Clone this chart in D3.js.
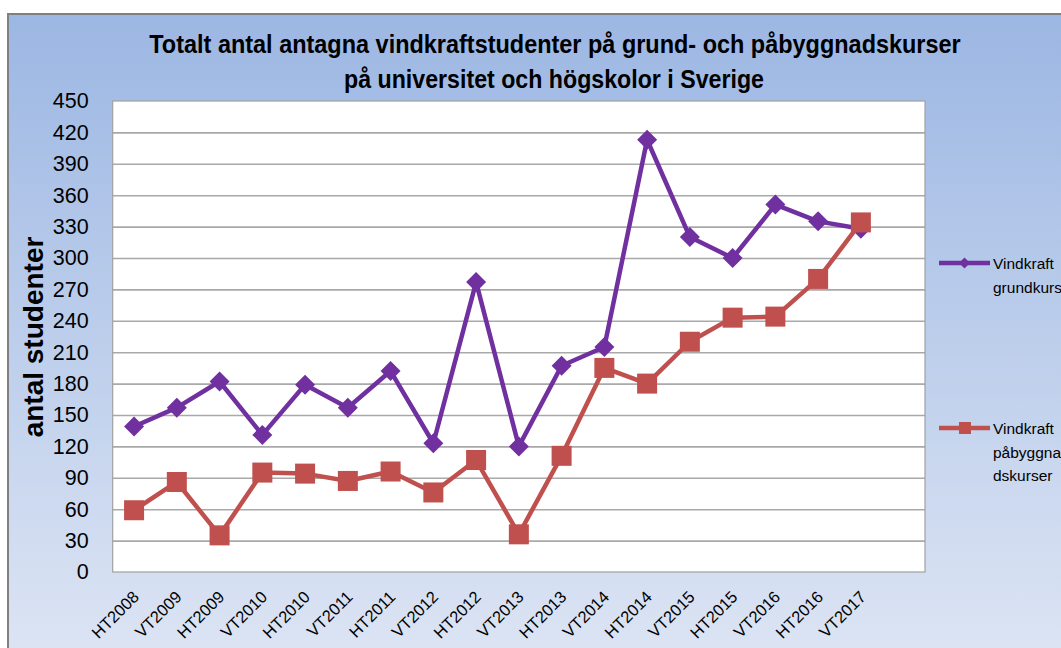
<!DOCTYPE html>
<html>
<head>
<meta charset="utf-8">
<script src="https://cdn.jsdelivr.net/npm/d3@7/dist/d3.min.js"></script>
<style>
  html, body { margin: 0; padding: 0; background: #fff; }
  svg { display: block; }
</style>
</head>
<body>
<svg id="chart" width="1061" height="648"></svg>
<script>
// ---- data ----
const categories = ["HT2008","VT2009","HT2009","VT2010","HT2010","VT2011","HT2011","VT2012","HT2012",
                    "VT2013","HT2013","VT2014","HT2014","VT2015","HT2015","VT2016","HT2016","VT2017"];
const grundkurser = [139,157,182,131,179,157,192,123,277,120,197,215,413,320,300,351,335,328];
const pabyggnadskurser = [59,86,35,95,94,87,96,76,107,36,111,195,180,220,243,244,280,334];
const yTickValues = [0,30,60,90,120,150,180,210,240,270,300,330,360,390,420,450];
const titleLines = ["Totalt antal antagna vindkraftstudenter på grund- och påbyggnadskurser",
                    "på universitet och högskolor i Sverige"];
const yAxisTitle = "antal studenter";
const seriesNames = ["Vindkraft grundkurser", "Vindkraft påbyggnadskurser"];
const legendLines = [["Vindkraft", "grundkurser"], ["Vindkraft", "påbyggna", "dskurser"]];

// ---- layout ----
const W = 1061, H = 648;
const plot = { left: 112.7, right: 925, top: 101, bottom: 572 };
const purple = "#7030A0", red = "#C0504D";
const baseFont = "'Liberation Sans', Arial, sans-serif";

const svg = d3.select("#chart");
const defs = svg.append("defs");
const grad = defs.append("linearGradient").attr("id", "bg").attr("x1", 0).attr("y1", 0).attr("x2", 0).attr("y2", 1);
grad.append("stop").attr("offset", "0%").attr("stop-color", "#9cb7e3");
grad.append("stop").attr("offset", "100%").attr("stop-color", "#dde5f4");

// chart area background
svg.append("rect").attr("x", 8).attr("y", 14).attr("width", W).attr("height", H)
  .attr("fill", "url(#bg)").attr("stroke", "#808080").attr("stroke-width", 2);

// helper: place a centred text and compress it horizontally to a target width
function squeeze(sel, cx, cy, target, rotate) {
  const len = sel.node().getComputedTextLength();
  const s = len > 0 ? Math.min(1, target / len) : 1;
  sel.attr("x", 0).attr("y", 0)
     .attr("transform", `translate(${cx},${cy})${rotate ? " rotate(" + rotate + ")" : ""} scale(${s.toFixed(4)},1)`);
}

// title
const title = svg.append("g").attr("font-family", baseFont)
  .attr("font-weight", "bold").attr("fill", "#000").attr("text-anchor", "middle");
const t1 = title.append("text").attr("font-size", 26).text(titleLines[0]);
const t2 = title.append("text").attr("font-size", 26).text(titleLines[1]);
squeeze(t1, 555, 53, 812);
squeeze(t2, 554, 88, 420);

// scales
const x = d3.scaleBand().domain([...categories, ""]).range([plot.left, plot.right]).padding(0);
const xc = d => x(d) + x.bandwidth() / 2;
const y = d3.scaleLinear().domain([0, 450]).range([plot.bottom, plot.top]);

// plot area
svg.append("rect").attr("x", plot.left).attr("y", plot.top)
  .attr("width", plot.right - plot.left).attr("height", plot.bottom - plot.top)
  .attr("fill", "#fff");

// gridlines
const grid = svg.append("g").attr("transform", `translate(${plot.left},0)`)
  .call(d3.axisLeft(y).tickValues(yTickValues.filter(v => v > 0 && v < 450)).tickSize(-(plot.right - plot.left)).tickFormat(""));
grid.select(".domain").remove();
grid.selectAll("line").attr("stroke", "#a9a9a9").attr("stroke-width", 1.6);

// plot border
svg.append("rect").attr("x", plot.left).attr("y", plot.top)
  .attr("width", plot.right - plot.left).attr("height", plot.bottom - plot.top)
  .attr("fill", "none").attr("stroke", "#a0a0a0").attr("stroke-width", 1.2);

// y axis labels
const yAx = svg.append("g").attr("transform", `translate(${plot.left},0)`)
  .call(d3.axisLeft(y).tickValues(yTickValues).tickSize(0).tickPadding(24).tickFormat(d3.format("d")));
yAx.select(".domain").remove();
yAx.selectAll("text").attr("font-family", baseFont).attr("font-size", 21.5).attr("fill", "#000");

// y axis title
const yt = svg.append("text")
  .attr("text-anchor", "middle").attr("font-family", baseFont).attr("font-weight", "bold")
  .attr("font-size", 28).attr("fill", "#000").text(yAxisTitle);
squeeze(yt, 43, 337, 207, -90);

// x axis labels
const xAx = svg.append("g").attr("transform", `translate(0,${plot.bottom})`)
  .call(d3.axisBottom(x).tickValues(categories).tickSize(0).tickFormat(d => d));
xAx.select(".domain").remove();
xAx.selectAll("text")
  .attr("font-family", baseFont).attr("font-size", 16.5).attr("fill", "#000")
  .attr("text-anchor", "end").attr("dy", 0).attr("y", 0)
  .attr("transform", "translate(6,26) rotate(-45)");

// lines
const line = d3.line().x((d, i) => xc(categories[i])).y(d => y(d));
svg.append("path").datum(grundkurser).attr("d", line)
  .attr("fill", "none").attr("stroke", purple).attr("stroke-width", 4.5).attr("stroke-linejoin", "round");
svg.append("g").selectAll("path").data(grundkurser).join("path")
  .attr("d", d3.symbol().type(d3.symbolSquare).size(200))
  .attr("transform", (d, i) => `translate(${xc(categories[i])},${y(d)}) rotate(45)`)
  .attr("fill", purple);

svg.append("path").datum(pabyggnadskurser).attr("d", line)
  .attr("fill", "none").attr("stroke", red).attr("stroke-width", 4.5).attr("stroke-linejoin", "round");
svg.append("g").selectAll("rect").data(pabyggnadskurser).join("rect")
  .attr("x", (d, i) => xc(categories[i]) - 10).attr("y", d => y(d) - 10)
  .attr("width", 20).attr("height", 20).attr("fill", red);

// legend
const legend = svg.append("g").attr("font-family", baseFont).attr("font-size", 15.5).attr("fill", "#000");
const legendY = [263, 428];
const legendColors = [purple, red];
legendY.forEach((ly, k) => {
  const g = legend.append("g").attr("transform", `translate(939,${ly})`).attr("aria-label", seriesNames[k]);
  g.append("line").attr("x1", 0).attr("x2", 51).attr("y1", 0).attr("y2", 0)
    .attr("stroke", legendColors[k]).attr("stroke-width", 4.5);
  if (k === 0) {
    g.append("path").attr("d", d3.symbol().type(d3.symbolSquare).size(60)).attr("transform", "translate(25.5,0) rotate(45)").attr("fill", purple);
  } else {
    g.append("rect").attr("x", 20).attr("y", -6).attr("width", 12).attr("height", 12).attr("fill", red);
  }
  const t = g.append("text").attr("x", 54).attr("y", 6);
  legendLines[k].forEach((s, j) => {
    t.append("tspan").attr("x", 54).attr("dy", j === 0 ? 0 : 23.5).text(s);
  });
});
</script>
</body>
</html>
